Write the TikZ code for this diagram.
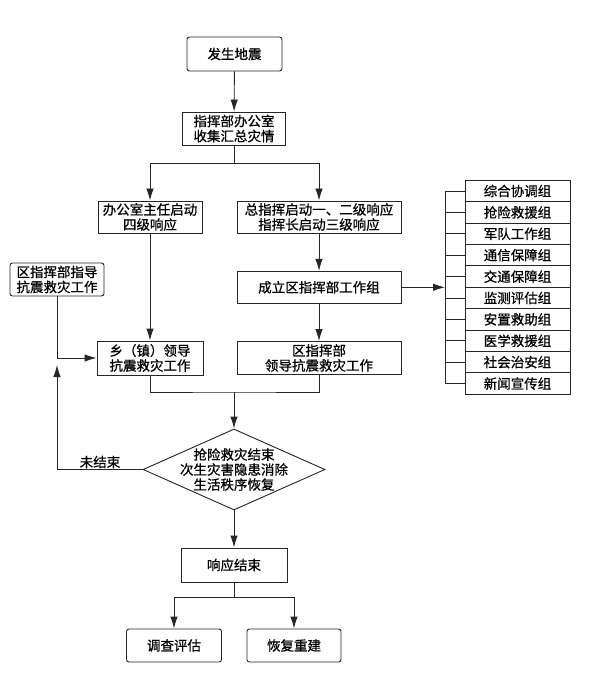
\documentclass[tikz,border=0pt]{standalone}
\usepackage{fontspec}
\newfontfamily\cjk[FakeBold=0.7]{Noto Sans CJK SC}
\usetikzlibrary{arrows.meta,shapes.geometric}

\tikzset{
	box/.style={draw=black!85, line width=0.9pt, align=center, inner sep=0pt, font=\cjk\fontsize{13.5}{15}\selectfont},
	rbox/.style={box, rounded corners=2.5pt},
	grp/.style={box, minimum width=105pt, minimum height=21.4pt},
	decide/.style={diamond, draw=black!85, line width=0.9pt, inner sep=0pt, minimum width=182pt, minimum height=81pt},
	link/.style={draw=black!85, line width=0.9pt},
	arr/.style={link, -{Latex[length=12pt,width=7.5pt]}},
}

\begin{document}
\begin{tikzpicture}[x=1pt,y=-1pt]

\useasboundingbox (0,0) rectangle (590,684);

% main column
\node[rbox, minimum width=95pt, minimum height=34pt] (quake) at (234.5,54) {发生地震};
\node[box, minimum width=103pt, minimum height=33pt] (collect) at (234,128.5) {指挥部办公室\\收集汇总灾情};
\node[box, minimum width=104pt, minimum height=32pt] (level4) at (150,217) {办公室主任启动\\四级响应};
\node[box, minimum width=164pt, minimum height=32pt] (level123) at (319,217) {总指挥启动一、二级响应\\指挥长启动三级响应};
\node[box, minimum width=164pt, minimum height=32pt] (setup) at (319,287.3) {成立区指挥部工作组};
\node[rbox, minimum width=94pt, minimum height=33pt] (guide) at (57,279.5) {区指挥部指导\\抗震救灾工作};
\node[box, minimum width=106pt, minimum height=34pt] (town) at (150,358) {乡（镇）领导\\抗震救灾工作};
\node[box, minimum width=164pt, minimum height=33pt] (lead) at (319,358) {区指挥部\\领导抗震救灾工作};

% decision
\node[decide] (check) at (234,469.5) {};
\node[align=center, font=\cjk\fontsize{13.5}{15}\selectfont] (checktext) at (check) {抢险救灾结束\\次生灾害隐患消除\\生活秩序恢复};
\node[font=\cjk\fontsize{13.5}{15}\selectfont] (notdone) at (100,462) {未结束};

\node[box, minimum width=106pt, minimum height=34pt] (finish) at (234,565) {响应结束};
\node[rbox, minimum width=95pt, minimum height=33pt] (survey) at (174,645.5) {调查评估};
\node[rbox, minimum width=94pt, minimum height=33pt] (rebuild) at (294,645.5) {恢复重建};

% working groups
\foreach \name [count=\i] in {综合协调组,抢险救援组,军队工作组,通信保障组,交通保障组,监测评估组,安置救助组,医学救援组,社会治安组,新闻宣传组} {
	\node[grp] (g\i) at (517.5,{191+21.4*(\i-1)}) {\name};
	\coordinate (t\i) at (445,{191+21.4*(\i-1)});
	\draw[link] (t\i) -- (g\i);
}
\draw[link] (t1) -- (t10);
\coordinate (busin) at (445,287.3);

% junctions
\coordinate (split1) at (234,163);
\coordinate (join) at (234,392);
\coordinate (loopend) at (57,365);
\coordinate (split2) at (234,597);

\draw[arr] (quake) -- (collect);
\draw[link] (collect) -- (split1);
\draw[arr] (split1) -| (level4);
\draw[arr] (split1) -| (level123);
\draw[arr] (level4) -- (town);
\draw[arr] (level123) -- (setup);
\draw[arr] (setup) -- (lead);
\draw[arr] (setup) -- (busin);
\draw[arr] (guide) |- (town);
\draw[link] (town) |- (join) -| (lead);
\draw[arr] (join) -- (check.north);
\draw[arr] (check.west) -| (loopend);
\draw[arr] (check.south) -- (finish);
\draw[link] (finish) -- (split2);
\draw[arr] (split2) -| (survey);
\draw[arr] (split2) -| (rebuild);

\end{tikzpicture}
\end{document}
